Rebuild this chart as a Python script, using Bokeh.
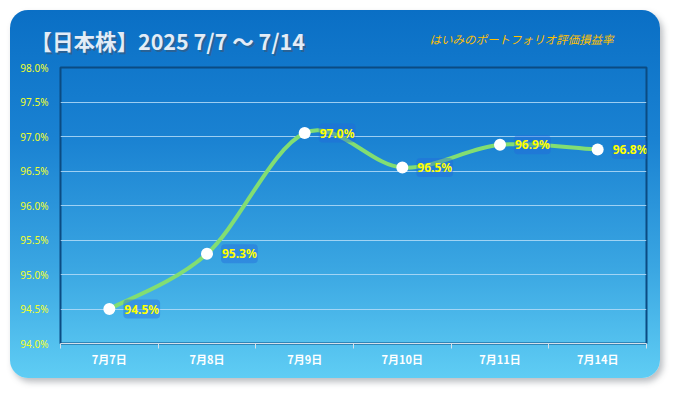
from bokeh.plotting import figure
from bokeh.models import Range1d, FixedTicker, PrintfTickFormatter, Title, ColumnDataSource
from bokeh.core.properties import value
from bokeh.embed import file_html
from bokeh.resources import INLINE

# ---- data ----
dates = ["7月7日", "7月8日", "7月9日", "7月10日", "7月11日", "7月14日"]
rates = [94.5, 95.3, 97.05, 96.55, 96.88, 96.81]
rate_labels = ["94.5%", "95.3%", "97.0%", "96.5%", "96.9%", "96.8%"]
y_ticks = [94.0, 94.5, 95.0, 95.5, 96.0, 96.5, 97.0, 97.5, 98.0]
title_text = "【日本株】2025 7/7 ～ 7/14"
subtitle_text = "はいみのポートフォリオ評価損益率"

n = len(dates)
xs = [i + 0.5 for i in range(n)]

W, H = 650, 368
p = figure(width=W, height=H, output_backend="svg", toolbar_location=None,
           x_range=Range1d(0, n), y_range=Range1d(94, 98),
           min_border_left=50, min_border_right=14, min_border_top=57, min_border_bottom=35)
p.title.visible = False
p.border_fill_alpha = 0
p.background_fill_alpha = 0
p.outline_line_color = "#0b4b82"
p.outline_line_width = 2
p.styles = {
    "margin": "10px 0 0 10px",
    "background": "linear-gradient(to bottom, #0a6fc5 0%, #1a82d2 35%, #3aa6e2 70%, #5fcdf4 100%)",
    "border-radius": "18px",
    "box-shadow": "3px 4px 6px rgba(60,70,80,0.35)",
}

# axes
xa = p.xaxis[0]
xa.ticker = FixedTicker(ticks=xs, minor_ticks=list(range(n + 1)))
xa.major_label_overrides = {x: d for x, d in zip(xs, dates)}
xa.major_tick_line_color = None
xa.major_tick_out = 0
xa.major_tick_in = 0
xa.minor_tick_line_color = "#d4e0ea"
xa.minor_tick_out = 5
xa.minor_tick_in = 0
xa.axis_line_color = "#d4e0ea"
xa.major_label_standoff = 2
xa.major_label_text_color = "white"
xa.major_label_text_font = "Noto Sans CJK JP"
xa.major_label_text_font_style = "bold"
xa.major_label_text_font_size = "11px"

ya = p.yaxis[0]
ya.ticker = FixedTicker(ticks=y_ticks)
ya.formatter = PrintfTickFormatter(format="%.1f%%")
ya.axis_line_color = None
ya.major_tick_line_color = None
ya.minor_tick_line_color = None
ya.major_tick_out = 0
ya.major_tick_in = 0
ya.major_label_standoff = 12
ya.major_label_text_color = "#f2ff2a"
ya.major_label_text_font = "Noto Sans"
ya.major_label_text_font_size = "10px"

p.xgrid.grid_line_color = None
p.ygrid.grid_line_color = "#b4dcf8"
p.ygrid.grid_line_alpha = 0.85
p.ygrid.grid_line_width = 1

# smooth line via bezier segments (Catmull-Rom control points)
x0s, y0s, x1s, y1s, cx0s, cy0s, cx1s, cy1s = ([] for _ in range(8))
for i in range(n - 1):
    pa = (xs[max(i - 1, 0)], rates[max(i - 1, 0)])
    pb = (xs[i], rates[i])
    pc = (xs[i + 1], rates[i + 1])
    pd = (xs[min(i + 2, n - 1)], rates[min(i + 2, n - 1)])
    x0s.append(pb[0]); y0s.append(pb[1])
    x1s.append(pc[0]); y1s.append(pc[1])
    cx0s.append(pb[0] + (pc[0] - pa[0]) / 6); cy0s.append(pb[1] + (pc[1] - pa[1]) / 6)
    cx1s.append(pc[0] - (pd[0] - pb[0]) / 6); cy1s.append(pc[1] - (pd[1] - pb[1]) / 6)
p.bezier(x0=x0s, y0=y0s, x1=x1s, y1=y1s, cx0=cx0s, cy0=cy0s, cx1=cx1s, cy1=cy1s,
         line_color="#82de72", line_width=4)

src = ColumnDataSource(dict(x=xs, y=rates, lab=rate_labels))
p.scatter("x", "y", source=src, size=12, marker="circle", fill_color="white",
          line_color="white", line_width=0)
p.text("x", "y", text="lab", source=src, x_offset=14, text_align="left",
       text_baseline="middle", text_color="#ffff00", text_font=value("Noto Sans"),
       text_font_style="bold", text_font_size="12px",
       background_fill_color="#2466dc", background_fill_alpha=0.4, padding=1,
       border_radius=4)

# titles drawn in the (collapsed) top panel, pulled up with negative standoff
p.add_layout(Title(text=title_text, align="left", offset=-28, vertical_align="top",
                   standoff=-82, text_color="#3a5878", text_alpha=0.65,
                   text_font="Noto Sans CJK JP", text_font_style="bold",
                   text_font_size="21.5px"), "above")
p.add_layout(Title(text=title_text, align="left", offset=-30, vertical_align="top",
                   standoff=-86, text_color="#e2ecf7",
                   text_font="Noto Sans CJK JP", text_font_style="bold",
                   text_font_size="21.5px"), "above")
p.add_layout(Title(text=subtitle_text, align="left", offset=369, vertical_align="top",
                   standoff=-74, text_color="#ffc000",
                   text_font="Noto Sans CJK JP", text_font_style="italic",
                   text_font_size="11.5px"), "above")

open("out.html", "w").write(file_html(p, INLINE))
